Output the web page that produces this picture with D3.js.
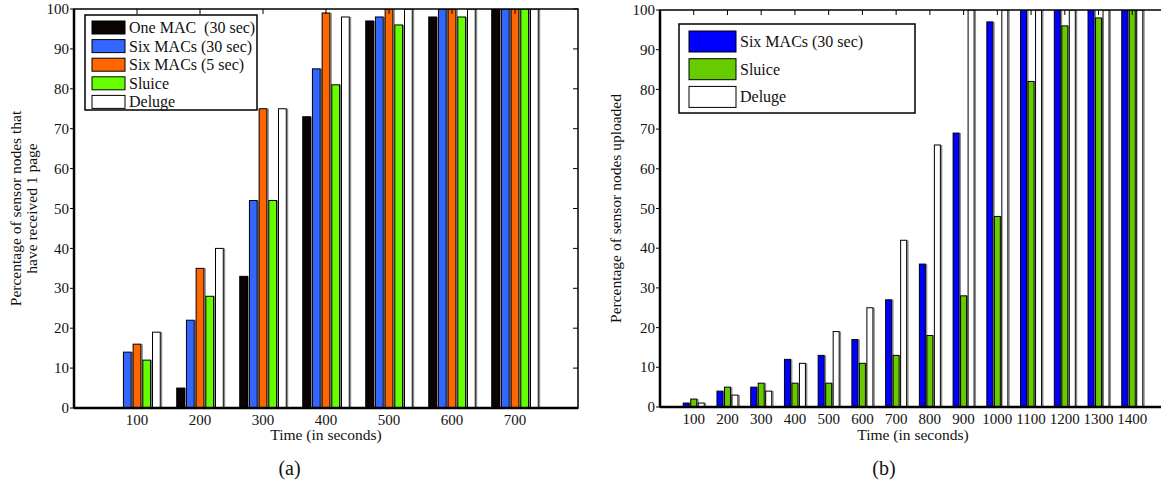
<!DOCTYPE html>
<html>
<head>
<meta charset="utf-8">
<script src="https://cdn.jsdelivr.net/npm/d3@7"></script>
<style>
  body { margin: 0; background: #fff; }
  svg text { font-family: "Liberation Serif", "Times New Roman", serif; fill: #111; }
</style>
</head>
<body>
<svg id="fig" width="1161" height="480"></svg>
<script>
"use strict";

// (a) pages received
var timesA = [100, 200, 300, 400, 500, 600, 700];
var oneMac30 = [0, 5, 33, 73, 97, 98, 100];
var sixMacs30A = [14, 22, 52, 85, 98, 100, 100];
var sixMacs5 = [16, 35, 75, 99, 100, 100, 100];
var sluiceA = [12, 28, 52, 81, 96, 98, 100];
var delugeA = [19, 40, 75, 98, 100, 100, 100];
var namesA = ["One MAC  (30 sec)", "Six MACs (30 sec)", "Six MACs (5 sec)", "Sluice", "Deluge"];

// (b) nodes uploaded
var timesB = [100, 200, 300, 400, 500, 600, 700, 800, 900, 1000, 1100, 1200, 1300, 1400];
var sixMacs30B = [1, 4, 5, 12, 13, 17, 27, 36, 69, 97, 100, 100, 100, 100];
var sluiceB = [2, 5, 6, 6, 6, 11, 13, 18, 28, 48, 82, 96, 98, 100];
var delugeB = [1, 3, 4, 11, 19, 25, 42, 66, 100, 100, 100, 100, 100, 100];
var namesB = ["Six MACs (30 sec)", "Sluice", "Deluge"];

var yTicks = [0, 10, 20, 30, 40, 50, 60, 70, 80, 90, 100];

var colorsA = ["#0b0202", "#3366ff", "#ff6600", "#66ff00", "#ffffff"];
var colorsB = ["#0000ff", "#66cc00", "#ffffff"];

var svg = d3.select("#fig");

function drawPanel(opt) {
  var g = svg.append("g");
  var x = opt.x, y = opt.y;
  var x0 = x.range()[0], x1 = x.range()[1];
  var yb = y.range()[0], yt = y.range()[1];

  g.append("clipPath").attr("id", opt.id + "clip")
    .append("rect")
    .attr("x", x0).attr("y", yt)
    .attr("width", x1 - x0).attr("height", yb - yt);

  // matlab style grouped bar offsets
  var n = opt.series.length;
  var groupW = Math.min(0.8, n / (n + 1.5));
  var pitch = groupW / n * 100;
  var barW = pitch * 0.8;
  var wpx = x(barW) - x(0);

  var bars = g.append("g").attr("clip-path", "url(#" + opt.id + "clip)");
  opt.series.forEach(function (vals, i) {
    var off = (i - (n - 1) / 2) * pitch;
    var data = vals.map(function (v, j) { return { t: opt.times[j], v: v }; })
      .filter(function (d) { return d.v > 0; });
    var sg = bars.append("g");
    sg.selectAll("line.shadow").data(data).enter().append("line")
      .attr("class", "shadow")
      .attr("x1", function (d) { return x(d.t + off - barW / 2) + wpx + 1.2; })
      .attr("x2", function (d) { return x(d.t + off - barW / 2) + wpx + 1.2; })
      .attr("y1", function (d) { return y(d.v); })
      .attr("y2", yb)
      .style("stroke", "#8c8c8c")
      .style("stroke-width", 1.5);
    sg.selectAll("rect").data(data).enter().append("rect")
      .attr("x", function (d) { return x(d.t + off - barW / 2); })
      .attr("y", function (d) { return y(d.v); })
      .attr("width", wpx)
      .attr("height", function (d) { return yb - y(d.v); })
      .style("fill", opt.colors[i])
      .style("stroke", "#000")
      .style("stroke-width", 1);
  });

  // ticks: left outward, right inward, top inward
  g.selectAll("line.ytick").data(yTicks).enter().append("line")
    .attr("x1", x0 - 4).attr("x2", x0)
    .attr("y1", function (d) { return y(d); }).attr("y2", function (d) { return y(d); })
    .style("stroke", "#000").style("stroke-width", 1);
  g.selectAll("line.rtick").data(yTicks).enter().append("line")
    .attr("x1", x1 - 5).attr("x2", x1)
    .attr("y1", function (d) { return y(d); }).attr("y2", function (d) { return y(d); })
    .style("stroke", "#000").style("stroke-width", 1);
  g.selectAll("line.ttick").data(opt.times).enter().append("line")
    .attr("x1", function (d) { return x(d); }).attr("x2", function (d) { return x(d); })
    .attr("y1", yt).attr("y2", yt + 5)
    .style("stroke", "#000").style("stroke-width", 1);

  // box
  g.append("rect")
    .attr("x", x0).attr("y", yt)
    .attr("width", x1 - x0).attr("height", yb - yt)
    .style("fill", "none").style("stroke", "#000").style("stroke-width", 1.5);
  g.append("line").attr("x1", x0).attr("x2", x1).attr("y1", yb).attr("y2", yb)
    .style("stroke", "#000").style("stroke-width", 2.5);
  g.append("line").attr("x1", x0).attr("x2", x0).attr("y1", yt).attr("y2", yb)
    .style("stroke", "#000").style("stroke-width", 2.5);

  // tick labels
  g.selectAll("text.ylab").data(yTicks).enter().append("text")
    .attr("x", x0 - 5).attr("y", function (d) { return y(d); })
    .attr("dy", "0.34em")
    .attr("text-anchor", "end")
    .style("font-size", "15px")
    .text(function (d) { return d; });
  g.selectAll("text.xlab").data(opt.times).enter().append("text")
    .attr("x", function (d) { return x(d); }).attr("y", yb + 17)
    .attr("text-anchor", "middle")
    .style("font-size", "15px")
    .text(function (d) { return d; });

  var cx = (x0 + x1) / 2;
  g.append("text").attr("x", cx).attr("y", 440)
    .attr("text-anchor", "middle").style("font-size", "15.5px")
    .text("Time (in seconds)");
  g.append("text").attr("x", opt.capX).attr("y", 475)
    .attr("text-anchor", "middle").style("font-size", "20px")
    .text(opt.caption);

  opt.ylabel.forEach(function (line, k) {
    g.append("text")
      .attr("transform", "translate(" + opt.ylabelX[k] + "," + ((yt + yb) / 2) + ") rotate(-90)")
      .attr("text-anchor", "middle").style("font-size", "15.5px")
      .text(line);
  });

  // legend
  var L = opt.legend;
  var lg = g.append("g");
  lg.append("rect")
    .attr("x", L.x).attr("y", L.y).attr("width", L.w).attr("height", L.h)
    .style("fill", "#fff").style("stroke", "#000").style("stroke-width", 1.5);
  opt.names.forEach(function (name, i) {
    var ry = L.y + L.top + i * L.pitch;
    lg.append("rect")
      .attr("x", L.x + L.pad).attr("y", ry)
      .attr("width", L.sw).attr("height", L.sh)
      .style("fill", opt.colors[i]).style("stroke", "#000").style("stroke-width", 1);
    lg.append("text")
      .attr("x", L.x + L.pad + L.sw + 4).attr("y", ry + L.sh - L.base)
      .style("font-size", "16px").style("white-space", "pre")
      .text(name);
  });
}

drawPanel({
  id: "a",
  x: d3.scaleLinear().domain([0, 800]).range([74, 578]),
  y: d3.scaleLinear().domain([0, 100]).range([408, 9]),
  times: timesA,
  series: [oneMac30, sixMacs30A, sixMacs5, sluiceA, delugeA],
  colors: colorsA,
  names: namesA,
  caption: "(a)",
  capX: 289.5,
  ylabel: ["Percentage of sensor nodes that", "have received 1 page"],
  ylabelX: [21, 37],
  legend: { x: 85, y: 15, w: 172, h: 95, pad: 7, top: 6, pitch: 18.6, sw: 33, sh: 13, base: 1 }
});

drawPanel({
  id: "b",
  x: d3.scaleLinear().domain([0, 1500]).range([660, 1166]),
  y: d3.scaleLinear().domain([0, 100]).range([407, 10]),
  times: timesB,
  series: [sixMacs30B, sluiceB, delugeB],
  colors: colorsB,
  names: namesB,
  caption: "(b)",
  capX: 884,
  ylabel: ["Percentage of sensor nodes uploaded"],
  ylabelX: [621],
  legend: { x: 679, y: 24, w: 236, h: 89, pad: 10, top: 7, pitch: 27.7, sw: 47, sh: 21, base: 5 }
});
</script>
</body>
</html>
